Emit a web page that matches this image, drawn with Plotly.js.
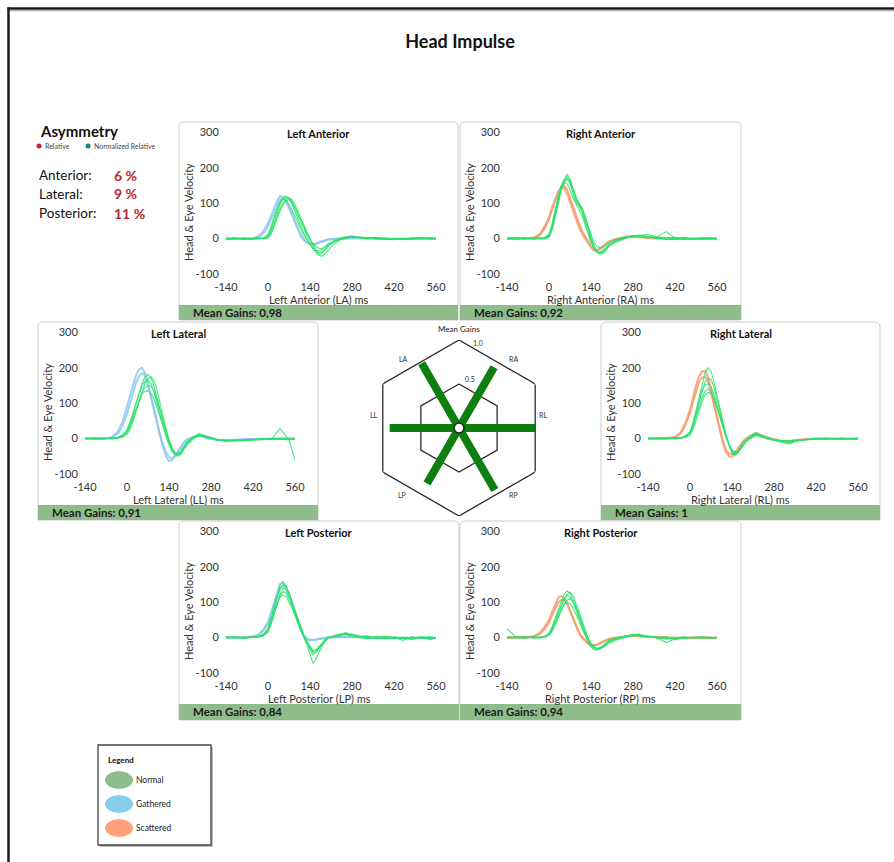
<!DOCTYPE html>
<html><head><meta charset="utf-8">
<script src="https://cdn.plot.ly/plotly-3.0.1.min.js"></script>
<style>html,body{margin:0;padding:0;background:#fff}#chart{width:894px;height:862px}</style>
</head><body><div id="chart"></div>
<script>
// ---------- DATA ----------
const timeMs = [-140,-110,-80,-50,-30,-15,0,10,20,30,40,50,60,70,80,90,100,110,120,130,140,150,160,170,180,190,200,220,240,260,280,300,330,360,390,420,450,480,510,540,560];
const xTickVals = [-140,0,140,280,420,560];
const yTickVals = [-100,0,100,200,300];

const panelKeys = ['LA','RA','LL','RL','LP','RP'];
const panelTitles = ['Left Anterior','Right Anterior','Left Lateral','Right Lateral','Left Posterior','Right Posterior'];
const panelXTitles = ['Left Anterior (LA) ms','Right Anterior (RA) ms','Left Lateral (LL) ms','Right Lateral (RL) ms','Left Posterior (LP) ms','Right Posterior (RP) ms'];
const meanGains = [0.98,0.92,0.91,1,0.84,0.94];
const yAxisTitle = 'Head & Eye Velocity';

const radarCats = ['RL','RA','LA','LL','LP','RP'];
const radarGridLevels = [0.5,1.0];

const asymLabels = ['Anterior:','Lateral:','Posterior:'];
const asymValues = [6,9,11];
const legendLabels = ['Normal','Gathered','Scattered'];

const laNormal = [
 [0,2,-1,1,0,2,8,28,55,80,100,115,120,113,97,76,54,33,14,-2,-17,-30,-40,-45,-41,-32,-22,-9,-2,3,5,4,2,3,0,-2,-1,1,2,0,-1],
 [-1,1,0,-2,1,0,3,15,38,62,84,100,112,116,110,96,78,58,38,18,0,-18,-35,-47,-50,-44,-34,-15,-4,2,6,3,1,4,-1,-3,0,2,3,1,0],
 [1,-1,2,0,-1,1,12,35,62,86,104,112,108,96,80,62,44,26,10,-4,-16,-27,-33,-35,-31,-24,-15,-5,0,4,3,5,2,1,-2,0,-3,1,0,2,-2],
 [0,1,-2,1,2,-1,5,22,48,74,96,112,118,114,102,85,65,44,24,8,-6,-16,-23,-27,-28,-24,-18,-8,-1,3,6,4,1,-1,2,-1,1,-2,1,0,1],
 [-2,0,1,-1,0,2,2,12,32,56,78,96,108,110,104,90,72,52,32,14,-3,-20,-33,-40,-38,-30,-20,-7,1,5,8,4,0,2,-1,1,-2,0,2,-1,1]
];
const laGathered = [
 [0,0,1,0,8,22,44,64,86,106,120,119,106,86,64,42,22,6,-5,-12,-15,-15,-13,-10,-7,-4,-2,0,1,2,3,2,1,0,0,-1,0,1,0,0,0],
 [1,0,-1,1,5,16,34,54,75,95,110,115,108,92,72,50,30,12,-2,-10,-14,-16,-15,-12,-9,-6,-3,-1,0,1,2,2,0,1,-1,0,1,0,-1,0,1]
];
const raNormal = [
 [0,2,-1,1,0,2,10,35,75,115,148,168,176,160,130,108,96,82,55,25,-2,-24,-37,-40,-36,-28,-20,-10,-3,2,6,8,5,3,0,4,-1,1,0,2,0],
 [1,-1,0,2,-1,0,6,28,65,105,140,165,182,170,140,112,100,88,62,30,4,-20,-36,-44,-42,-33,-22,-10,-2,4,8,10,6,2,-2,1,2,-1,1,0,1],
 [-1,1,2,-2,1,3,12,40,80,118,145,158,155,138,115,98,85,66,40,14,-10,-28,-38,-38,-33,-25,-16,-6,0,3,5,9,12,4,20,2,-2,0,1,-1,0],
 [0,-2,1,0,2,-1,4,22,58,98,132,158,168,164,142,115,98,86,64,36,10,-10,-22,-26,-24,-18,-12,-4,2,5,7,6,3,1,0,-3,2,1,-2,1,0],
 [2,0,-1,1,0,1,8,30,70,110,140,160,170,158,128,102,92,76,48,18,-8,-28,-40,-42,-38,-30,-20,-9,-1,3,9,7,4,5,1,2,0,-1,1,2,-1]
];
const raScattered = [
 [0,1,0,2,10,28,55,82,108,130,146,150,140,118,92,66,42,22,8,-5,-22,-34,-35,-30,-24,-16,-10,-3,2,5,6,5,3,1,0,-1,0,1,0,-1,0],
 [1,0,1,3,14,34,60,88,112,132,144,142,128,104,78,54,32,14,0,-12,-25,-33,-32,-27,-20,-13,-8,-2,3,6,5,4,2,0,1,0,-1,0,1,0,0]
];
const llNormal = [
 [0,1,-1,2,3,8,22,42,68,98,128,155,174,182,172,148,116,80,46,16,-10,-32,-45,-47,-40,-28,-14,2,10,6,1,-4,-6,-5,-3,-4,-2,-1,0,-2,-1],
 [1,-1,0,1,4,10,25,46,72,100,126,148,162,165,155,132,100,66,34,6,-18,-36,-46,-44,-36,-24,-10,4,12,8,2,-3,-5,-6,-4,-2,-3,0,1,-1,0],
 [-1,0,2,0,2,6,16,32,55,82,108,130,145,150,148,135,110,80,50,22,-4,-26,-40,-44,-38,-26,-12,3,14,9,3,-2,-7,-4,-5,-3,-1,-2,28,-3,0],
 [0,2,1,-1,1,4,12,26,48,76,104,132,156,170,175,164,138,100,62,28,-2,-28,-44,-50,-44,-32,-18,-2,8,7,2,-4,-8,-6,-5,-4,-3,-2,-1,-4,-61],
 [1,0,-1,1,3,9,20,38,60,86,108,126,134,135,128,112,88,60,34,10,-12,-30,-40,-42,-36,-25,-12,2,9,5,1,-3,-5,-4,-6,-3,-1,0,-2,0,1]
];
const llGathered = [
 [0,1,0,5,20,48,88,120,152,178,196,200,186,156,118,78,40,8,-24,-50,-64,-60,-48,-34,-20,-9,-2,4,8,4,0,-3,-4,-3,-2,-1,-2,0,-1,0,0],
 [1,0,-1,3,14,36,70,100,132,158,176,185,178,152,118,80,44,12,-16,-38,-52,-56,-50,-38,-24,-12,-3,5,9,3,-1,-4,-3,-5,-2,-1,0,-1,0,1,0]
];
const rlNormal = [
 [0,1,-1,1,3,8,20,45,80,118,155,185,200,192,160,120,80,42,10,-20,-42,-47,-38,-22,-8,0,5,18,6,0,-4,-8,-16,-4,-2,0,1,-1,0,1,0],
 [1,-1,0,2,2,6,16,38,68,102,135,160,170,168,145,110,74,40,10,-16,-36,-44,-40,-28,-14,-4,2,12,8,2,-3,-6,-8,-6,-1,1,-2,0,1,-1,0],
 [-1,0,1,0,2,5,14,32,58,88,115,134,140,134,115,88,58,30,4,-18,-34,-40,-36,-26,-14,-5,1,10,5,0,-3,-5,-6,-4,-2,-1,0,1,-1,0,1],
 [0,1,2,-1,1,4,10,26,50,78,104,124,130,128,112,88,60,32,6,-16,-32,-38,-35,-26,-15,-6,0,8,4,-2,-4,-6,-10,-5,-3,0,1,0,-1,1,0],
 [1,0,-1,1,2,7,18,40,72,106,138,152,155,148,126,96,64,34,8,-18,-38,-46,-40,-28,-14,-4,3,14,7,1,-5,-7,-12,-6,-2,1,0,-1,1,0,-1]
];
const rlScattered = [
 [0,1,0,3,18,45,82,118,150,176,190,192,175,140,100,60,22,-14,-38,-50,-51,-42,-30,-16,-5,2,8,16,8,2,-3,-6,-8,-4,-2,-1,0,1,0,-1,0],
 [1,0,1,4,16,40,72,104,136,160,172,175,162,132,96,58,24,-8,-30,-42,-44,-38,-28,-16,-6,1,6,14,9,3,-2,-5,-7,-3,-1,0,1,0,-1,0,1]
];
const lpNormal = [
 [0,2,-1,1,3,8,22,48,80,112,138,150,142,122,98,72,46,22,4,-14,-34,-48,-42,-30,-18,-8,-2,4,6,10,8,3,5,-3,-2,2,-4,1,-1,2,-3],
 [1,-1,0,2,4,10,26,54,88,120,148,158,146,124,98,72,46,20,0,-22,-48,-73,-60,-40,-24,-10,-2,3,8,12,9,4,-2,2,-3,1,-8,2,0,-4,-2],
 [-1,0,1,0,2,6,18,40,68,96,118,130,126,110,90,68,44,20,2,-12,-26,-36,-34,-26,-16,-6,0,5,10,8,6,2,4,-1,3,0,-2,-1,1,-5,-1],
 [0,1,-2,1,2,5,16,38,66,96,122,138,140,128,106,80,54,28,6,-10,-28,-40,-38,-28,-16,-6,1,6,9,14,4,1,-3,2,0,-3,1,-2,2,0,-1],
 [2,0,-1,1,1,7,20,42,70,96,114,120,116,102,84,62,40,18,0,-14,-30,-42,-40,-30,-18,-8,-1,2,7,9,10,5,1,-2,4,-1,0,-6,1,-2,0]
];
const lpGathered = [
 [0,1,0,3,10,24,44,72,102,130,152,156,144,122,96,70,44,20,4,-4,-8,-8,-6,-4,-2,0,1,2,3,4,3,2,1,0,0,-1,0,0,1,0,0],
 [1,0,1,2,8,20,38,64,92,118,138,145,138,118,94,68,42,20,5,-3,-6,-7,-6,-4,-2,-1,0,1,2,3,2,1,0,1,0,0,-1,0,0,1,0]
];
const rpNormal = [
 [0,1,-1,0,1,3,8,22,42,64,86,106,122,128,118,98,74,48,22,0,-16,-26,-32,-32,-28,-22,-16,-8,-2,4,9,6,3,1,-2,-3,0,1,-1,0,1],
 [25,2,-1,1,0,2,10,26,48,70,92,110,120,116,100,78,54,30,10,-8,-22,-30,-34,-32,-26,-18,-10,-4,0,5,8,7,2,-1,-14,-4,1,0,2,-1,0],
 [-1,0,2,-1,1,2,6,18,36,56,76,94,106,110,104,88,66,42,18,-2,-18,-28,-32,-30,-26,-20,-12,-5,-1,3,7,10,4,0,2,-6,-1,1,0,-2,1],
 [1,-1,0,2,-1,4,12,30,54,78,102,122,132,126,108,84,58,32,8,-12,-26,-34,-35,-30,-24,-16,-8,-2,3,6,8,5,1,2,-3,-1,2,-1,0,1,-1],
 [0,2,1,-1,0,2,8,20,38,58,78,94,100,96,84,68,48,26,6,-10,-22,-28,-30,-28,-22,-15,-8,-3,1,4,6,5,2,0,-4,-2,0,-1,1,0,0]
];
const rpScattered = [
 [0,1,0,4,14,30,50,72,94,112,118,112,96,74,52,30,12,0,-10,-18,-22,-23,-20,-16,-11,-6,-3,0,2,4,5,4,2,1,0,-1,0,0,1,0,0],
 [1,0,1,3,10,24,42,62,82,98,106,108,98,80,58,36,16,2,-8,-15,-19,-21,-20,-16,-12,-7,-4,-1,1,3,5,4,3,1,0,0,-1,0,0,1,0]
];

// ---------- STYLE / LAYOUT ----------
const W = 894, H = 862;
const fx = p => p / W, fy = p => 1 - p / H;
const FONT = 'Lato, "Open Sans", sans-serif';
const C_NORMAL = 'rgba(40,226,104,0.85)';
const C_GATHERED = 'rgba(138,198,238,0.8)';
const C_SCATTERED = 'rgba(244,156,108,0.85)';
const LEG_COLORS = ['#8fbc8f','#87ceeb','#ffa07a'];
const BAR_GREEN = '#8fbc8b';

const panelNormal = [laNormal, raNormal, llNormal, rlNormal, lpNormal, rpNormal];
const panelOther = [laGathered, raScattered, llGathered, rlScattered, lpGathered, rpScattered];
const panelOtherColor = [C_GATHERED, C_SCATTERED, C_GATHERED, C_SCATTERED, C_GATHERED, C_SCATTERED];
const cardBoxes = [[179,122,458,320],[460,122,741,320],[38,322,318,520],[601,322,880,520],[179,521,459,720],[460,521,741,720]];

const traces = [];
const shapes = [];
const annotations = [];
const layout = {
  width: W, height: H, margin: {l:0, r:0, t:0, b:0},
  paper_bgcolor: '#fff', plot_bgcolor: 'rgba(0,0,0,0)', showlegend: false,
  font: {family: FONT, color: '#222'},
  title: {text: '<b>Head Impulse</b>', x: fx(460), xanchor: 'center', y: fy(42), yanchor: 'middle',
          font: {size: 18, color: '#111', family: FONT}},
  shapes, annotations
};

function rr(x0, y0, x1, y1, r) {
  const P = (x, y) => fx(x) + ',' + fy(y);
  return 'M' + P(x0 + r, y0) + ' L' + P(x1 - r, y0) + ' Q' + P(x1, y0) + ' ' + P(x1, y0 + r) +
    ' L' + P(x1, y1) + ' L' + P(x0, y1) + ' L' + P(x0, y0 + r) + ' Q' + P(x0, y0) + ' ' + P(x0 + r, y0) + ' Z';
}
function ann(x, y, text, size, opts) {
  annotations.push(Object.assign({xref:'paper', yref:'paper', x: fx(x), y: fy(y), text, showarrow:false,
    xanchor:'center', yanchor:'middle', font:{size, color:'#222', family: FONT}}, opts || {}));
}

panelKeys.forEach((key, i) => {
  const n = i + 1, s = n === 1 ? '' : String(n);
  const [cx0, cy0, cx1, cy1] = cardBoxes[i];
  const px0 = cx0 + 47, px1 = cx0 + 257, py0 = cy0 + 10.5, py1 = cy0 + 152;
  // card
  shapes.push({type:'path', xref:'paper', yref:'paper', path: rr(cx0, cy0, cx1, cy1, 5),
    line:{color:'#cdcdcd', width:1}, fillcolor:'#fff', layer:'below'});
  shapes.push({type:'rect', xref:'paper', yref:'paper', x0: fx(cx0), x1: fx(cx1), y0: fy(cy1), y1: fy(cy0 + 183),
    line:{width:0}, fillcolor: BAR_GREEN, layer:'below'});
  // axes
  layout['xaxis' + s] = {domain:[fx(px0), fx(px1)], range:[-140,560], tickvals: xTickVals, ticktext: xTickVals.map(String),
    showgrid:false, zeroline:false, showline:false, ticks:'outside', ticklen:3, tickcolor:'rgba(0,0,0,0)',
    tickfont:{size:11, color:'#333', family: FONT}, anchor:'y' + s, fixedrange:true};
  layout['yaxis' + s] = {domain:[fy(py1), fy(py0)], range:[-100,300], tickvals: yTickVals, ticktext: yTickVals.map(String),
    showgrid:false, zeroline:false, showline:false, ticks:'outside', ticklen:4, tickcolor:'rgba(0,0,0,0)',
    tickfont:{size:11, color:'#333', family: FONT}, anchor:'x' + s, fixedrange:true};
  // traces
  panelOther[i].forEach(row => traces.push({type:'scatter', mode:'lines', x: timeMs, y: row, xaxis:'x' + s, yaxis:'y' + s,
    line:{color: panelOtherColor[i], width:2}, hoverinfo:'skip'}));
  panelNormal[i].forEach(row => traces.push({type:'scatter', mode:'lines', x: timeMs, y: row, xaxis:'x' + s, yaxis:'y' + s,
    line:{color: C_NORMAL, width:1.1}, hoverinfo:'skip'}));
  // texts
  const cxm = (cx0 + cx1) / 2;
  ann(cxm, cy0 + 11, '<b>' + panelTitles[i] + '</b>', 11, {font:{size:11, color:'#111', family: FONT}});
  ann(cxm, cy0 + 177, panelXTitles[i], 11, {font:{size:11, color:'#333', family: FONT}});
  ann(cx0 + 9, cy0 + 90, yAxisTitle, 11, {textangle:-90, font:{size:11, color:'#333', family: FONT}});
  ann(cx0 + 12, cy0 + 190.5, '<b>Mean Gains: ' + String(meanGains[i]).replace('.', ',') + '</b>', 11.5,
    {xanchor:'left', font:{size:11.5, color:'#1a1a1a', family: FONT}});
});

// ---------- RADAR (Mean Gains) ----------
const catAngle = {RL:0, RA:60, LA:120, LL:180, LP:240, RP:300};
const vertexAngles = [90,30,-30,-90,-150,150,90];
const apothem = Math.cos(Math.PI / 6);
layout.polar = {domain:{x:[fx(371), fx(547)], y:[fy(516), fy(340)]}, bgcolor:'rgba(0,0,0,0)',
  radialaxis:{visible:false, range:[0, 1 / apothem]},
  angularaxis:{visible:false, direction:'counterclockwise', rotation:0}};
radarGridLevels.forEach(lv => traces.push({type:'scatterpolar', mode:'lines', subplot:'polar',
  r: vertexAngles.map(() => lv / apothem), theta: vertexAngles, line:{color:'#2a2a2a', width:1.3}, hoverinfo:'skip'}));
const sr = [], st = [];
radarCats.forEach(c => {
  const g = meanGains[panelKeys.indexOf(c)];
  sr.push(0, g, null); st.push(catAngle[c], catAngle[c], null);
});
traces.push({type:'scatterpolar', mode:'lines', subplot:'polar', r: sr, theta: st, connectgaps:false,
  line:{color:'#0e7f0e', width:8}, hoverinfo:'skip'});
traces.push({type:'scatterpolar', mode:'markers', subplot:'polar', r:[0], theta:[0],
  marker:{size:10, color:'#fff', line:{color:'#222', width:1.5}}, hoverinfo:'skip'});
ann(459, 329, 'Mean Gains', 8, {font:{size:8, color:'#222', family: FONT}});
ann(478, 343, radarGridLevels[1].toFixed(1), 7, {font:{size:7, color:'#333', family: FONT}});
ann(470, 379, String(radarGridLevels[0]), 7, {font:{size:7, color:'#333', family: FONT}});
const catLabelPos = {LA:[403,359], RA:[513,359], RL:[543,415], LL:[374,415], LP:[402,495], RP:[513,495]};
radarCats.forEach(c => ann(catLabelPos[c][0], catLabelPos[c][1], c, 7, {font:{size:7, color:'#333', family: FONT}}));

// ---------- ASYMMETRY ----------
ann(38, 131, '<b>Asymmetry</b>', 15, {xanchor:'left', font:{size:15, color:'#111', family: FONT}});
shapes.push({type:'circle', xref:'paper', yref:'paper', x0: fx(36.5), x1: fx(41.5), y0: fy(148.5), y1: fy(143.5), fillcolor:'#c0262c', line:{width:0}});
ann(43, 146, 'Relative', 7, {xanchor:'left', font:{size:7, color:'#444', family: FONT}});
shapes.push({type:'circle', xref:'paper', yref:'paper', x0: fx(85.5), x1: fx(90.5), y0: fy(148.5), y1: fy(143.5), fillcolor:'#14868a', line:{width:0}});
ann(92, 146, 'Normalized Relative', 7, {xanchor:'left', font:{size:7, color:'#444', family: FONT}});
asymLabels.forEach((lab, k) => {
  const y = 175 + k * 19;
  ann(37, y, lab, 13.5, {xanchor:'left', font:{size:13.5, color:'#111', family: FONT}});
  ann(112, y, '<b>' + asymValues[k] + ' %</b>', 14, {xanchor:'left', font:{size:14, color:'#b3282d', family: FONT}});
});

// ---------- LEGEND BOX ----------
shapes.push({type:'rect', xref:'paper', yref:'paper', x0: fx(100), x1: fx(213), y0: fy(847), y1: fy(747), fillcolor:'#bbb', line:{width:0}});
shapes.push({type:'rect', xref:'paper', yref:'paper', x0: fx(98), x1: fx(211), y0: fy(845), y1: fy(745), fillcolor:'#fff', line:{color:'#444', width:1.3}});
ann(106, 760, '<b>Legend</b>', 8, {xanchor:'left', font:{size:8, color:'#111', family: FONT}});
legendLabels.forEach((lab, k) => {
  const cy = 780 + k * 24;
  shapes.push({type:'circle', xref:'paper', yref:'paper', x0: fx(105), x1: fx(133), y0: fy(cy + 9), y1: fy(cy - 9), fillcolor: LEG_COLORS[k], line:{width:0}});
  ann(134, cy, lab, 8.5, {xanchor:'left', font:{size:8.5, color:'#222', family: FONT}});
});

// ---------- FRAME ----------
shapes.push({type:'line', xref:'paper', yref:'paper', x0: fx(8), x1: 1, y0: fy(10.8), y1: fy(10.8), line:{color:'#9a9a9a', width:1}});
shapes.push({type:'line', xref:'paper', yref:'paper', x0: fx(7.5), x1: 1, y0: fy(8.5), y1: fy(8.5), line:{color:'#1c1c1c', width:2.5}});
shapes.push({type:'line', xref:'paper', yref:'paper', x0: fx(8.5), x1: fx(8.5), y0: fy(7.5), y1: 0, line:{color:'#1c1c1c', width:2.5}});

Plotly.newPlot('chart', traces, layout, {staticPlot:true, displayModeBar:false});
</script>
</body></html>
